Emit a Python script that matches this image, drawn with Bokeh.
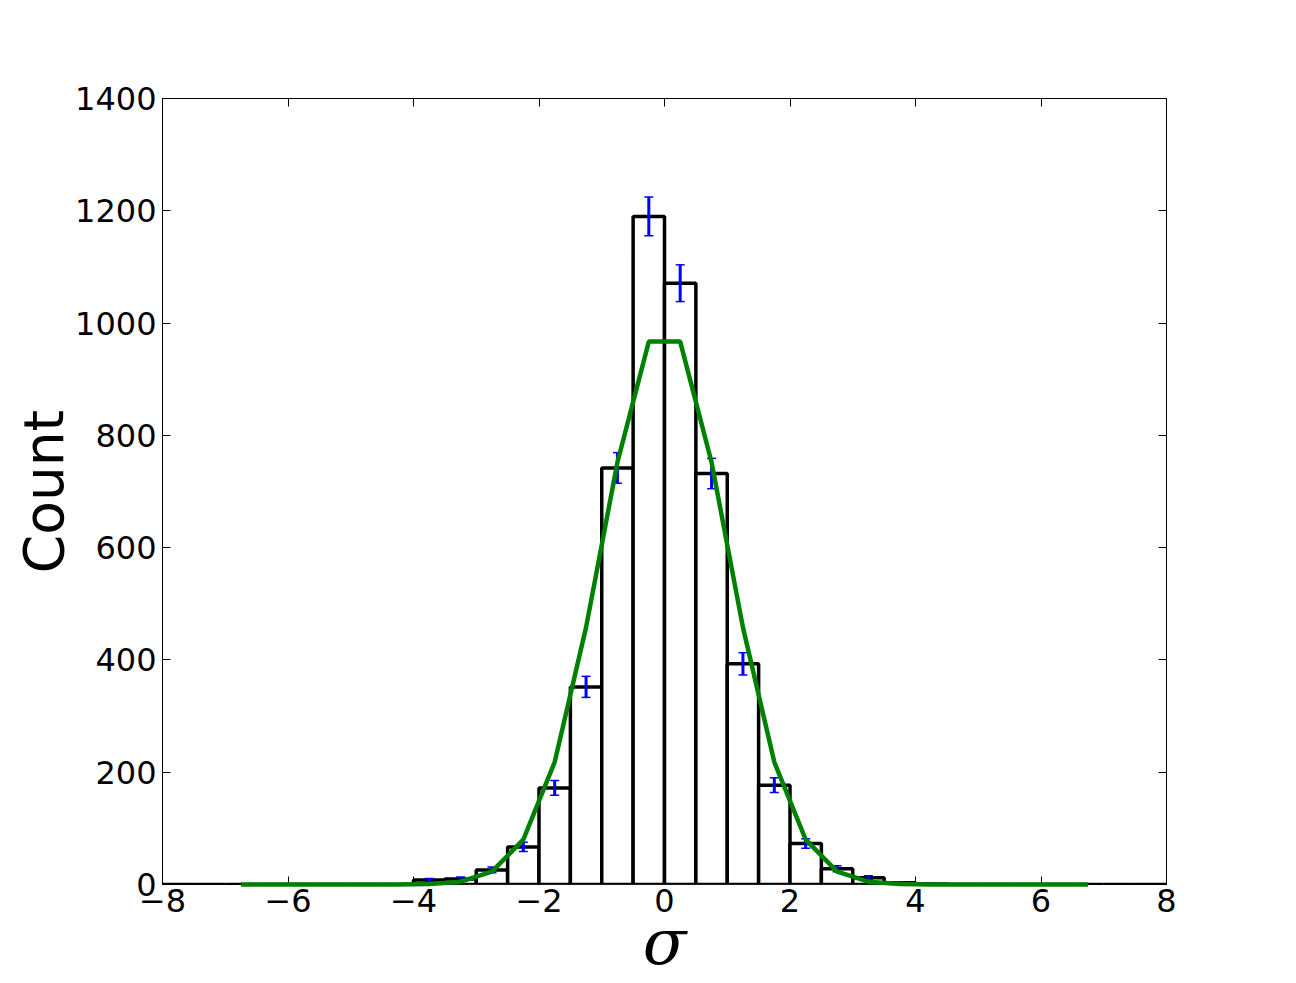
import numpy as np
from bokeh.plotting import figure
from bokeh.models import ColumnDataSource, Whisker, TeeHead, LinearAxis, FixedTicker, Range1d
from bokeh.embed import file_html
from bokeh.resources import INLINE

# Histogram bin edges (-8 .. 8, width 0.5) and counts
bin_edges = [-8.0 + 0.5 * i for i in range(33)]
counts = [0, 0, 0, 0, 0, 0, 0, 0,
          8, 10, 26, 67, 172, 352, 742, 1190,
          1071, 732, 393, 177, 73, 28, 12, 3,
          1, 0, 0, 0, 0, 0, 0, 0]

# Model curve evaluated at bin centres from -6.75 to 6.75
model_x = [-6.75, -6.25, -5.75, -5.25, -4.75, -4.25, -3.75, -3.25, -2.75, -2.25,
           -1.75, -1.25, -0.75, -0.25, 0.25, 0.75, 1.25, 1.75, 2.25, 2.75,
           3.25, 3.75, 4.25, 4.75, 5.25, 5.75, 6.25, 6.75]
model_y = [0, 0, 0, 0, 0, 0, 1, 5, 23, 80,
           218, 458, 752, 967, 967, 752, 458, 218, 80, 23,
           5, 1, 0, 0, 0, 0, 0, 0]

x_ticks = [-8, -6, -4, -2, 0, 2, 4, 6, 8]
y_ticks = [0, 200, 400, 600, 800, 1000, 1200, 1400]

lefts = bin_edges[:-1]
rights = bin_edges[1:]
centers = [(a + b) / 2 for a, b in zip(lefts, rights)]

p = figure(width=1296, height=983, output_backend="svg", toolbar_location=None,
           x_range=Range1d(-8, 8), y_range=Range1d(0, 1400),
           min_border_left=162, min_border_right=130, min_border_top=98, min_border_bottom=99)
p.background_fill_color = "white"
p.border_fill_color = "white"
p.outline_line_color = "black"
p.outline_line_width = 1
p.xgrid.visible = False
p.ygrid.visible = False

p.quad(left=lefts, right=rights, bottom=0, top=counts,
       fill_color="white", line_color="black", line_width=3.5)

ex = [c for c, n in zip(centers, counts) if n > 0]
en = [n for n in counts if n > 0]
err = [float(np.sqrt(n)) for n in en]
esrc = ColumnDataSource(dict(base=ex,
                             lower=[n - e for n, e in zip(en, err)],
                             upper=[n + e for n, e in zip(en, err)]))
wh = Whisker(source=esrc, base="base", lower="lower", upper="upper",
             line_color="#0000ff", line_width=3,
             upper_head=TeeHead(size=9, line_color="#0000ff", line_width=1.5),
             lower_head=TeeHead(size=9, line_color="#0000ff", line_width=1.5))
wh.level = "annotation"
p.add_layout(wh)

ln = p.line(model_x, model_y, line_color="#008000", line_width=4.5)
ln.level = "overlay"

minus = "\u2212"
def fmt(v):
    return (minus + str(abs(v))) if v < 0 else str(v)

for ax in (p.xaxis[0], p.yaxis[0]):
    ax.axis_line_color = None
    ax.major_tick_in = 8
    ax.major_tick_out = 0
    ax.minor_tick_line_color = None
    ax.major_tick_line_color = "black"
    ax.major_label_text_font = "DejaVu Sans"
    ax.major_label_text_font_size = "32px"
    ax.major_label_text_color = "black"

p.xaxis[0].ticker = FixedTicker(ticks=x_ticks)
p.xaxis[0].major_label_overrides = {v: fmt(v) for v in x_ticks}
p.xaxis[0].major_label_standoff = 4
p.yaxis[0].ticker = FixedTicker(ticks=y_ticks)
p.yaxis[0].major_label_overrides = {v: fmt(v) for v in y_ticks}
p.yaxis[0].major_label_standoff = 6

p.xaxis[0].axis_label = "σ"
p.xaxis[0].axis_label_text_font = "DejaVu Serif"
p.xaxis[0].axis_label_text_font_style = "italic"
p.xaxis[0].axis_label_text_font_size = "64px"
p.xaxis[0].axis_label_standoff = -10
p.xaxis[0].axis_label_text_color = "black"

p.yaxis[0].axis_label = "Count"
p.yaxis[0].axis_label_text_font = "DejaVu Sans"
p.yaxis[0].axis_label_text_font_style = "normal"
p.yaxis[0].axis_label_text_font_size = "55px"
p.yaxis[0].axis_label_standoff = -4
p.yaxis[0].axis_label_text_color = "black"

# Mirror ticks on top and right
top_ax = LinearAxis(ticker=FixedTicker(ticks=x_ticks), axis_line_color=None,
                    major_tick_in=8, major_tick_out=0, minor_tick_line_color=None,
                    major_label_text_color=None, major_label_text_font_size="10px")
right_ax = LinearAxis(ticker=FixedTicker(ticks=y_ticks), axis_line_color=None,
                      major_tick_in=8, major_tick_out=0, minor_tick_line_color=None,
                      major_label_text_color=None, major_label_text_font_size="10px")
p.add_layout(top_ax, "above")
p.add_layout(right_ax, "right")

open("out.html", "w").write(file_html(p, INLINE))
